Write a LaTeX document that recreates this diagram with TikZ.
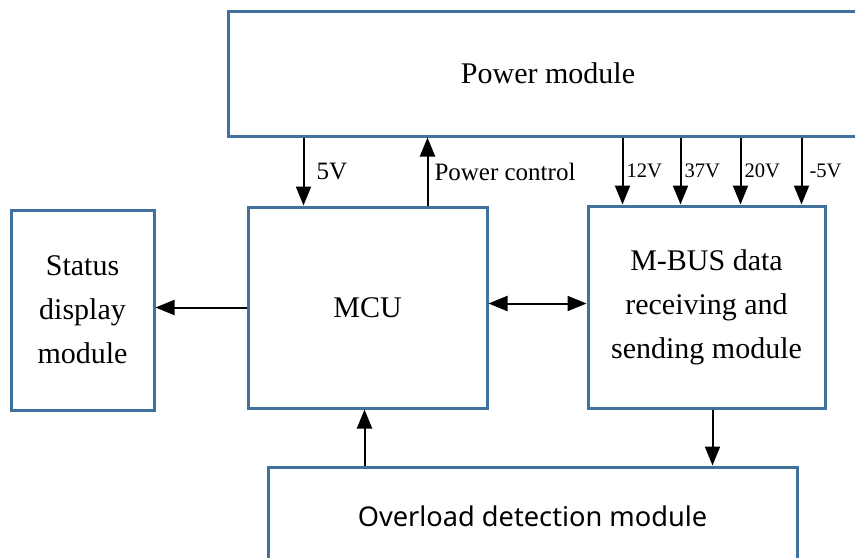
\documentclass[tikz,border=0pt]{standalone}
\usepackage{fontspec}
\setmainfont{Liberation Serif}
\newfontfamily\ovfont{Noto Sans}
\usetikzlibrary{arrows.meta}
\definecolor{boxblue}{RGB}{65,113,156}
\tikzset{module/.style={draw=boxblue, line width=1.5pt, align=center,
        font=\fontsize{15}{22}\selectfont, inner sep=0pt},
    feed/.style={-{Triangle[length=9.5pt,width=7.5pt]}, line width=1pt},
    both/.style={{Triangle[length=9.5pt,width=7.5pt]}-{Triangle[length=9.5pt,width=7.5pt]}, line width=1pt},
    volt/.style={right, inner sep=1.5pt, font=\fontsize{10.3}{12}\selectfont},
    }

\begin{document}
\begin{tikzpicture}[x=0.5pt,y=-0.5pt]
	\useasboundingbox (0,0) rectangle (855,557);
	\clip (0,0) rectangle (855,557);
	\node[module, minimum width=320pt, minimum height=62.5pt] (pw) at (548,73.5) {Power module};
	\node[module, minimum width=119.5pt, minimum height=100.5pt] (mcu) at (367.5,307.5) {MCU};
	\node[module, minimum width=118.5pt, minimum height=101pt] (mbus) at (706.5,307) {M-BUS data\\receiving and\\sending module};
	\node[module, minimum width=71.5pt, minimum height=100pt] (st) at (82.5,310) {Status\\display\\module};
	\node[module, minimum width=264.5pt, minimum height=49pt,
		font=\ovfont\fontsize{13.6}{18}\selectfont] (ov) at (532.5,516) {Overload detection module};
	% power lines
	\draw[feed] ([xshift=28.5pt]mcu.north west |- pw.south) -- node[right, inner sep=0pt, xshift=6pt,
		font=\fontsize{12.5}{14}\selectfont]{5V} ([xshift=28.5pt]mcu.north west);
	\draw[feed] ([xshift=90.5pt]mcu.north west) -- node[right, inner sep=0pt, xshift=3pt,
		font=\fontsize{12.5}{14}\selectfont]{Power control} ([xshift=90.5pt]mcu.north west |- pw.south);
	\draw[feed] ([xshift=18pt]mbus.north west |- pw.south) -- node[volt]{12V} ([xshift=18pt]mbus.north west);
	\draw[feed] ([xshift=47pt]mbus.north west |- pw.south) -- node[volt]{37V} ([xshift=47pt]mbus.north west);
	\draw[feed] ([xshift=77pt]mbus.north west |- pw.south) -- node[volt]{20V} ([xshift=77pt]mbus.north west);
	\draw[feed] ([xshift=107.5pt]mbus.north west |- pw.south) -- node[volt, xshift=2pt]{-5V} ([xshift=107.5pt]mbus.north west);
	% data lines
	\draw[feed] (mcu.west) -- (mcu.west -| st.east);
	\draw[both] ([yshift=2pt]mcu.east) -- ([yshift=2pt]mcu.east -| mbus.west);
	\draw[feed] ([xshift=-1.5pt]mcu.south |- ov.north) -- ([xshift=-1.5pt]mcu.south);
	\draw[feed] ([xshift=3pt]mbus.south) -- ([xshift=3pt]mbus.south |- ov.north);
\end{tikzpicture}
\end{document}
